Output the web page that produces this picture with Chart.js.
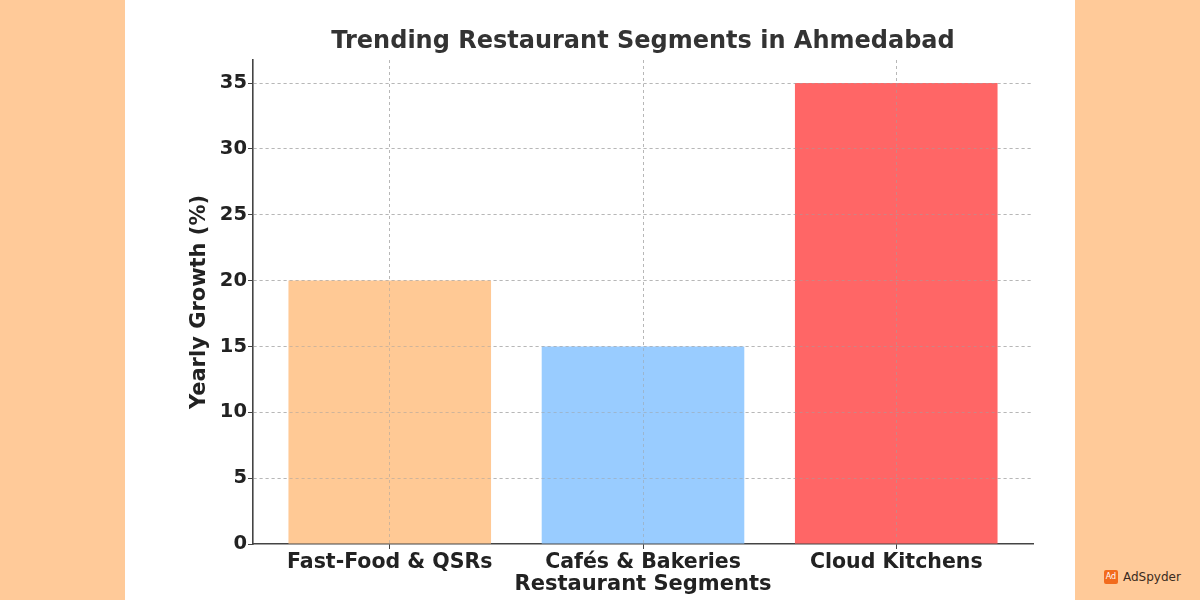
<!DOCTYPE html>
<html>
<head>
<meta charset="utf-8">
<script src="https://cdn.jsdelivr.net/npm/chart.js@4"></script>
<style>
  html,body{margin:0;padding:0;}
  body{width:1200px;height:600px;background:#FFCA99;position:relative;overflow:hidden;font-family:"DejaVu Sans",sans-serif;}
  #panel{position:absolute;left:125px;top:0;width:950px;height:600px;background:#fff;}
  #wm{position:absolute;left:1104px;top:570px;display:flex;align-items:center;font-family:"DejaVu Sans",sans-serif;font-size:12px;color:#3a2a20;}
  #wm .ic{width:14px;height:14px;background:#F26B1D;border-radius:2px;color:#fff;font-size:8px;line-height:14px;text-align:center;margin-right:5px;}
</style>
</head>
<body>
<div id="panel"><canvas id="c" width="950" height="600"></canvas></div>
<div id="wm"><div class="ic">Ad</div>AdSpyder</div>
<script>
const categories = ["Fast-Food & QSRs", "Cafés & Bakeries", "Cloud Kitchens"];
const growth = [20, 15, 35];
const barColors = ["#FFC995", "#99CCFF", "#FF6666"];
const yTicks = [0, 5, 10, 15, 20, 25, 30, 35];

const gridOnTop = {
  id: 'gridOnTop',
  afterDatasetsDraw(chart) {
    const ctx = chart.ctx;
    ctx.save();
    chart.scales.x.drawGrid(chart.chartArea);
    chart.scales.y.drawGrid(chart.chartArea);
    ctx.restore();
  }
};

const gridColor = (c) => (c.tick && c.tick.value === 0 && c.scale.axis === 'y') ? 'rgba(0,0,0,0)' : 'rgba(160,160,160,0.5)';

new Chart(document.getElementById('c'), {
  type: 'bar',
  data: {
    datasets: [{
      data: categories.map((c, i) => ({ x: i, y: growth[i] })),
      backgroundColor: barColors,
      borderWidth: 0,
      barPercentage: 0.8,
      categoryPercentage: 1.0
    }]
  },
  options: {
    responsive: false,
    animation: false,
    layout: { padding: { left: 0, right: 42, top: 0, bottom: 0 } },
    plugins: {
      legend: { display: false },
      tooltip: { enabled: false },
      title: {
        display: true,
        fullSize: false,
        text: 'Trending Restaurant Segments in Ahmedabad',
        color: '#333333',
        font: { family: 'DejaVu Sans', size: 24, weight: 'bold' },
        padding: { top: 27.6, bottom: 3.6 }
      }
    },
    scales: {
      x: {
        type: 'linear',
        offset: false,
        min: -0.54,
        max: 2.54,
        afterBuildTicks(scale) { scale.ticks = categories.map((c, i) => ({ value: i })); },
        afterFit(scale) { scale.height = 56; },
        ticks: {
          callback: (v) => categories[v],
          color: '#222',
          font: { family: 'DejaVu Sans', size: 20.5, weight: 'bold' },
          padding: 1,
          maxRotation: 0,
          autoSkip: false
        },
        grid: { offset: false, color: gridColor, tickColor: '#444', tickLength: 5, lineWidth: 1, tickBorderDash: [] },
        border: { display: true, color: '#444', width: 1.6, dash: [3, 3] },
        title: {
          display: true,
          text: 'Restaurant Segments',
          color: '#222',
          font: { family: 'DejaVu Sans', size: 21, weight: 'bold' },
          padding: { top: 0, bottom: 2.4 }
        }
      },
      y: {
        min: 0,
        max: 36.75,
        afterBuildTicks(scale) { scale.ticks = yTicks.map(v => ({ value: v })); },
        afterFit(scale) { scale.width = 128; },
        ticks: {
          color: '#222',
          font: { family: 'DejaVu Sans', size: 19.5, weight: 'bold' },
          padding: 1
        },
        grid: { color: gridColor, tickColor: '#444', tickLength: 5, lineWidth: 1, tickBorderDash: [] },
        border: { display: true, color: '#444', width: 1.6, dash: [3, 3] },
        title: {
          display: true,
          text: 'Yearly Growth (%)',
          color: '#222',
          font: { family: 'DejaVu Sans', size: 21, weight: 'bold' },
          padding: { top: 62, bottom: 0 }
        }
      }
    }
  },
  plugins: [gridOnTop]
});
</script>
</body>
</html>
